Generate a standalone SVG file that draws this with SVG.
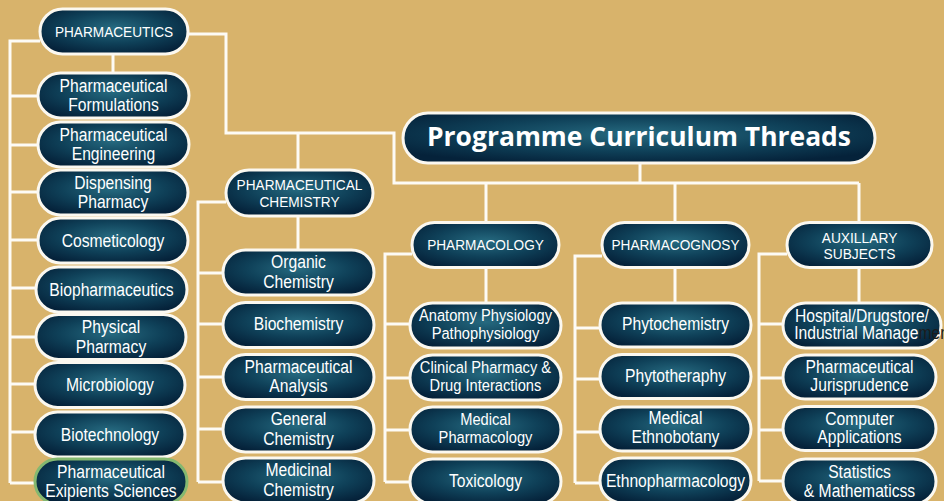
<svg xmlns="http://www.w3.org/2000/svg" width="944" height="501" viewBox="0 0 944 501">
<defs>
<radialGradient id="pg" cx="0.5" cy="0.42" r="0.62">
<stop offset="0" stop-color="#266a80"/>
<stop offset="0.55" stop-color="#0f4159"/>
<stop offset="1" stop-color="#05223a"/>
</radialGradient>
<style>
.pill{fill:url(#pg);stroke:#fbf8f0;stroke-width:3}
.green{stroke:#84b870}
.t{font-family:"Liberation Sans",Arial,sans-serif;font-size:18px;fill:#fff;text-anchor:middle}
.s{font-size:16.5px}
.c{font-family:"Liberation Sans",Arial,sans-serif;font-size:15px;fill:#fff;text-anchor:middle}
.title{font-family:"Open Sans","Liberation Sans",sans-serif;font-weight:bold;font-size:27px;fill:#fff;text-anchor:middle}
.ln{fill:none;stroke:#fdfbf5;stroke-width:3;stroke-linejoin:miter}
</style>
</defs>
<rect width="944" height="501" fill="#d8b36b"/>
<g id="connectors" class="ln">
<polyline points="40,41 10,41 10,483"/>
<path d="M10,96H38M10,145H38M10,192H38M10,240H38M10,288H36M10,337H36M10,384H35M10,432H35M10,483H35"/>
<path d="M113,54V73"/>
<polyline points="188,34 226,34 226,133 394,133 394,183 859,183"/>
<path d="M640,163V183M298,133V170M486,183V223M675,183V223M859,183V223"/>
<polyline points="226,202 198,202 198,482"/>
<path d="M198,273H223M198,324H223M198,377H223M198,429H223M198,482H223M298,216V250"/>
<polyline points="412,254 385,254 385,482"/>
<path d="M385,324H410M385,378H410M385,430H410M385,482H410M486,267V303"/>
<polyline points="602,256 575,256 575,483"/>
<path d="M575,328H600M575,379H600M575,432H600M575,483H600M675,267V303"/>
<polyline points="787,254 759,254 759,481"/>
<path d="M759,324H783M759,378H783M759,430H783M759,481H783M859,267V303"/>
</g>
<g id="title" transform="translate(639,138)">
<rect x="-236" y="-25" width="472" height="50" rx="25" class="pill"/>
<text class="title" x="0" y="8" textLength="424" lengthAdjust="spacingAndGlyphs">Programme Curriculum Threads</text>
</g>
<g id="pharmaceutics" transform="translate(114,31.5)">
<rect x="-74" y="-22.5" width="148" height="45" rx="22.5" class="pill"/>
<text class="c" transform="scale(.91,1)" x="0" y="5.5">PHARMACEUTICS</text>
</g>
<g id="formulations" transform="translate(113.5,95.5)">
<rect x="-75.5" y="-22.5" width="151" height="45" rx="22.5" class="pill"/>
<text class="t" transform="scale(.87,1)"><tspan x="0" y="-4">Pharmaceutical</tspan><tspan x="0" y="15.5">Formulations</tspan></text>
</g>
<g id="engineering" transform="translate(113.5,144.5)">
<rect x="-75.5" y="-22.5" width="151" height="45" rx="22.5" class="pill"/>
<text class="t" transform="scale(.87,1)"><tspan x="0" y="-4">Pharmaceutical</tspan><tspan x="0" y="15.5">Engineering</tspan></text>
</g>
<g id="dispensing" transform="translate(113,192.5)">
<rect x="-75" y="-22.5" width="150" height="45" rx="22.5" class="pill"/>
<text class="t" transform="scale(.87,1)"><tspan x="0" y="-4">Dispensing</tspan><tspan x="0" y="15.5">Pharmacy</tspan></text>
</g>
<g id="cosmeticology" transform="translate(113,240.5)">
<rect x="-75" y="-22.5" width="150" height="45" rx="22.5" class="pill"/>
<text class="t" transform="scale(.87,1)" x="0" y="6">Cosmeticology</text>
</g>
<g id="biopharmaceutics" transform="translate(111.5,289.5)">
<rect x="-75.5" y="-22.5" width="151" height="45" rx="22.5" class="pill"/>
<text class="t" transform="scale(.87,1)" x="0" y="6">Biopharmaceutics</text>
</g>
<g id="physical" transform="translate(111,337)">
<rect x="-75" y="-22.5" width="150" height="45" rx="22.5" class="pill"/>
<text class="t" transform="scale(.87,1)"><tspan x="0" y="-4">Physical</tspan><tspan x="0" y="15.5">Pharmacy</tspan></text>
</g>
<g id="microbiology" transform="translate(110,385)">
<rect x="-75" y="-22.5" width="150" height="45" rx="22.5" class="pill"/>
<text class="t" transform="scale(.87,1)" x="0" y="6">Microbiology</text>
</g>
<g id="biotechnology" transform="translate(110,434.5)">
<rect x="-75" y="-22.5" width="150" height="45" rx="22.5" class="pill"/>
<text class="t" transform="scale(.87,1)" x="0" y="6">Biotechnology</text>
</g>
<g id="exipients" transform="translate(111,481.5)">
<rect x="-76" y="-22.5" width="152" height="45" rx="22.5" class="pill green"/>
<text class="t" transform="scale(.87,1)"><tspan x="0" y="-4">Pharmaceutical</tspan><tspan x="0" y="15.5">Exipients Sciences</tspan></text>
</g>
<g id="pharmchem" transform="translate(299.5,193)">
<rect x="-73.5" y="-23" width="147" height="46" rx="23" class="pill"/>
<text class="c" transform="scale(.91,1)"><tspan x="0" y="-3">PHARMACEUTICAL</tspan><tspan x="0" y="14">CHEMISTRY</tspan></text>
</g>
<g id="organic" transform="translate(298.5,272.5)">
<rect x="-75.5" y="-22.5" width="151" height="45" rx="22.5" class="pill"/>
<text class="t" transform="scale(.87,1)"><tspan x="0" y="-4.5">Organic</tspan><tspan x="0" y="15.5">Chemistry</tspan></text>
</g>
<g id="biochemistry" transform="translate(298.5,325)">
<rect x="-75.5" y="-22.5" width="151" height="45" rx="22.5" class="pill"/>
<text class="t" transform="scale(.87,1)" x="0" y="5">Biochemistry</text>
</g>
<g id="analysis" transform="translate(298.5,377)">
<rect x="-75.5" y="-22.5" width="151" height="45" rx="22.5" class="pill"/>
<text class="t" transform="scale(.87,1)"><tspan x="0" y="-4.5">Pharmaceutical</tspan><tspan x="0" y="15">Analysis</tspan></text>
</g>
<g id="general" transform="translate(298.5,429.5)">
<rect x="-75.5" y="-22.5" width="151" height="45" rx="22.5" class="pill"/>
<text class="t" transform="scale(.87,1)"><tspan x="0" y="-4.5">General</tspan><tspan x="0" y="15.5">Chemistry</tspan></text>
</g>
<g id="medicinal" transform="translate(298.5,480.5)">
<rect x="-75.5" y="-22.5" width="151" height="45" rx="22.5" class="pill"/>
<text class="t" transform="scale(.87,1)"><tspan x="0" y="-4.5">Medicinal</tspan><tspan x="0" y="15.5">Chemistry</tspan></text>
</g>
<g id="pharmacology" transform="translate(485.5,245)">
<rect x="-73.5" y="-22.5" width="147" height="45" rx="22.5" class="pill"/>
<text class="c" transform="scale(.91,1)" x="0" y="5">PHARMACOLOGY</text>
</g>
<g id="anatomy" transform="translate(485.5,325.5)">
<rect x="-75.5" y="-22.5" width="151" height="45" rx="22.5" class="pill"/>
<text class="t s" transform="scale(.89,1)"><tspan x="0" y="-5">Anatomy Physiology</tspan><tspan x="0" y="13.5">Pathophysiology</tspan></text>
</g>
<g id="clinical" transform="translate(485.5,377.5)">
<rect x="-75.5" y="-22.5" width="151" height="45" rx="22.5" class="pill"/>
<text class="t s" transform="scale(.89,1)"><tspan x="0" y="-5">Clinical Pharmacy &amp;</tspan><tspan x="0" y="13.5">Drug Interactions</tspan></text>
</g>
<g id="medpharm" transform="translate(485.5,429.5)">
<rect x="-75.5" y="-22.5" width="151" height="45" rx="22.5" class="pill"/>
<text class="t s" transform="scale(.89,1)"><tspan x="0" y="-5">Medical</tspan><tspan x="0" y="13.5">Pharmacology</tspan></text>
</g>
<g id="toxicology" transform="translate(485.5,481.5)">
<rect x="-75.5" y="-22.5" width="151" height="45" rx="22.5" class="pill"/>
<text class="t" transform="scale(.87,1)" x="0" y="5">Toxicology</text>
</g>
<g id="pharmacognosy" transform="translate(675.5,245)">
<rect x="-73.5" y="-22.5" width="147" height="45" rx="22.5" class="pill"/>
<text class="c" transform="scale(.91,1)" x="0" y="5">PHARMACOGNOSY</text>
</g>
<g id="phytochemistry" transform="translate(675.5,325)">
<rect x="-75.5" y="-22" width="151" height="44" rx="22" class="pill"/>
<text class="t" transform="scale(.87,1)" x="0" y="5">Phytochemistry</text>
</g>
<g id="phytotheraphy" transform="translate(675.5,376.5)">
<rect x="-75.5" y="-22" width="151" height="44" rx="22" class="pill"/>
<text class="t" transform="scale(.87,1)" x="0" y="5">Phytotheraphy</text>
</g>
<g id="ethnobotany" transform="translate(675.5,429)">
<rect x="-75.5" y="-22" width="151" height="44" rx="22" class="pill"/>
<text class="t" transform="scale(.87,1)"><tspan x="0" y="-5">Medical</tspan><tspan x="0" y="14">Ethnobotany</tspan></text>
</g>
<g id="ethnopharmacology" transform="translate(675.5,480.5)">
<rect x="-75.5" y="-22.5" width="151" height="45" rx="22.5" class="pill"/>
<text class="t" transform="scale(.87,1)" x="0" y="6">Ethnopharmacology</text>
</g>
<g id="auxillary" transform="translate(859.5,245)">
<rect x="-72.5" y="-22.5" width="145" height="45" rx="22.5" class="pill"/>
<text class="c" transform="scale(.92,1)"><tspan x="0" y="-2">AUXILLARY</tspan><tspan x="0" y="13.5">SUBJECTS</tspan></text>
</g>
<g id="hospital" transform="translate(862,325.5)">
<rect x="-79" y="-22.5" width="158" height="45" rx="22.5" class="pill"/>
<text class="t" transform="scale(.87,1)"><tspan x="0" y="-4">Hospital/Drugstore/</tspan></text>
<text class="t" transform="scale(.87,1)" style="text-anchor:start" x="-78" y="13.5">Industrial Manage<tspan fill="#1c1c1c">ment</tspan></text>
</g>
<g id="jurisprudence" transform="translate(859.5,377)">
<rect x="-76.5" y="-22" width="153" height="44" rx="22" class="pill"/>
<text class="t" transform="scale(.87,1)"><tspan x="0" y="-4">Pharmaceutical</tspan><tspan x="0" y="14">Jurisprudence</tspan></text>
</g>
<g id="computer" transform="translate(859.5,428.5)">
<rect x="-76.5" y="-22" width="153" height="44" rx="22" class="pill"/>
<text class="t" transform="scale(.87,1)"><tspan x="0" y="-3.5">Computer</tspan><tspan x="0" y="14.5">Applications</tspan></text>
</g>
<g id="statistics" transform="translate(859.5,481.5)">
<rect x="-76.5" y="-22.5" width="153" height="45" rx="22.5" class="pill"/>
<text class="t" transform="scale(.87,1)"><tspan x="0" y="-3.5">Statistics</tspan><tspan x="0" y="15.5">&amp; Mathematicss</tspan></text>
</g>
</svg>
